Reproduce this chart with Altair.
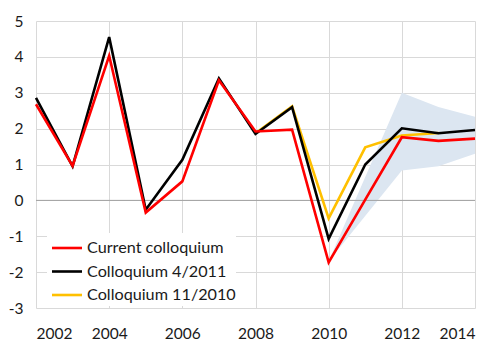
import altair as alt
import pandas as pd

years = list(range(2002, 2015))
current = [2.68, 0.96, 4.03, -0.34, 0.53, 3.35, 1.92, 1.97, -1.73, 0.02, 1.76, 1.66, 1.72]
col_apr2011 = [2.86, 0.95, 4.55, -0.26, 1.13, 3.40, 1.85, 2.60, -1.07, 1.00, 2.01, 1.87, 1.96]
nov_years = [2008, 2009, 2010, 2011, 2012, 2013]
col_nov2010 = [1.87, 2.62, -0.50, 1.48, 1.81, 1.88]
band_years = [2010, 2012, 2013, 2014]
band_upper = [-1.70, 3.00, 2.60, 2.33]
band_lower = [-1.70, 0.83, 0.95, 1.30]

series_names = ["Current colloquium", "Colloquium 4/2011", "Colloquium 11/2010"]
series_colors = ["#ff0000", "#000000", "#ffc000"]
x_ticks = list(range(2002, 2015, 2))
y_ticks = list(range(-3, 6))

FONT = "Lato"
W, H = 439, 287

df_cur = pd.DataFrame({"year": years, "value": current})
df_apr = pd.DataFrame({"year": years, "value": col_apr2011})
df_nov = pd.DataFrame({"year": nov_years, "value": col_nov2010})
df_band = pd.DataFrame({"year": band_years, "upper": band_upper, "lower": band_lower})

xscale = alt.Scale(domain=[2002, 2014], nice=False, zero=False)
yscale = alt.Scale(domain=[-3, 5], nice=False, zero=False)

x_axis = alt.Axis(values=x_ticks, format="d", labelPadding=18, grid=True, labelOverlap=False)
y_axis = alt.Axis(values=y_ticks, labelPadding=13, grid=True, labelOverlap=False,
                  labelExpr="toString(datum.value)")
x_enc = alt.X("year:Q", scale=xscale, title=None, axis=x_axis)
y_enc = alt.Y("value:Q", scale=yscale, title=None, axis=y_axis)

band = alt.Chart(df_band).mark_area(color="#dce6f1", opacity=1).encode(
    x=x_enc, y=alt.Y("upper:Q", scale=yscale, title=None, axis=y_axis),
    y2="lower:Q")

zero = alt.Chart(pd.DataFrame({"z": [0]})).mark_rule(color="#a0a0a0", strokeWidth=1).encode(
    y=alt.Y("z:Q", scale=yscale, title=None, axis=y_axis))

def line(df, color):
    return alt.Chart(df).mark_line(color=color, strokeWidth=2.6, strokeJoin="miter").encode(
        x=x_enc, y=y_enc)

layers = [band, zero,
          line(df_nov, series_colors[2]),
          line(df_apr, series_colors[1]),
          line(df_cur, series_colors[0])]

# legend box
leg_data = alt.InlineData(values=[{"a": 1}])
layers.append(alt.Chart(leg_data).mark_rect(fill="white").encode(
    x=alt.value(11), x2=alt.value(200), y=alt.value(212), y2=alt.value(285)))
row_y = [227, 250.5, 274]
for name, col, yy in zip(series_names, series_colors, row_y):
    d = alt.InlineData(values=[{"name": name}])
    layers.append(alt.Chart(d).mark_rule(color=col, strokeWidth=2.6).encode(
        x=alt.value(16), x2=alt.value(46), y=alt.value(yy)))
    layers.append(alt.Chart(d).mark_text(align="left", baseline="middle", font=FONT,
                                         fontSize=16.2, color="#1a1a1a").encode(
        x=alt.value(51), y=alt.value(yy), text="name:N"))

chart = alt.layer(*layers).properties(
    width=W, height=H,
    background="white",
    autosize=alt.AutoSizeParams(type="none"),
    padding={"left": 28, "top": 13, "right": 17, "bottom": 42},
).configure_view(stroke=None).configure_axis(
    grid=True, gridColor="#d9d9d9", gridWidth=1, domain=False, ticks=False, tickSize=0,
    labelFont=FONT, labelFontSize=15.5, labelColor="#1a1a1a"
)

chart.save("out.html", embed_options={"renderer": "svg", "actions": False})
